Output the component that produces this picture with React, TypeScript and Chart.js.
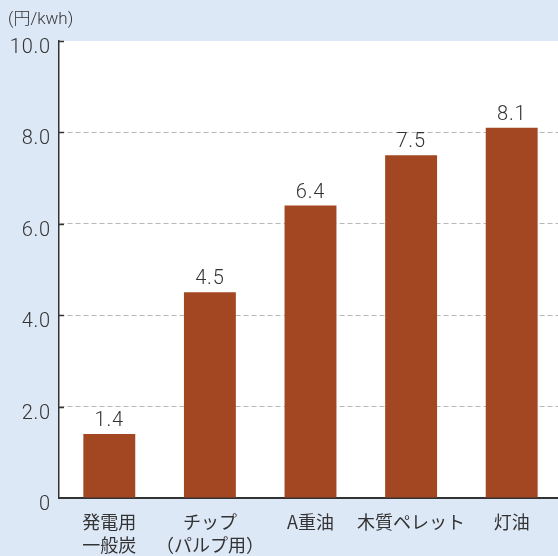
import React, { useEffect, useRef } from "react";
import { Chart, registerables } from "chart.js";

Chart.register(...registerables);

const categories: (string | string[])[] = [
  ["発電用", "一般炭"],
  ["チップ", "（パルプ用）"],
  "A重油",
  "木質ペレット",
  "灯油",
];
const costs = [1.4, 4.5, 6.4, 7.5, 8.1];
const unitLabel = "(円/kwh)";
const yTicks = [0, 2, 4, 6, 8, 10];

const BG = "#dde8f6";
const BAR = "#a34722";
const TEXT = "#333333";
const NUM_FONT = 'Roboto, "Noto Sans CJK JP", sans-serif';
const CJK_FONT = '"Noto Sans CJK JP", sans-serif';

const fmt = (v: number) => (v === 0 ? "0" : v.toFixed(1));

export default function App() {
  const ref = useRef<HTMLCanvasElement | null>(null);

  useEffect(() => {
    if (!ref.current) return;
    const plugin = {
      id: "deco",
      beforeDraw(chart: any) {
        const { ctx, chartArea } = chart;
        ctx.save();
        ctx.fillStyle = BG;
        ctx.fillRect(0, 0, chart.width, chart.height);
        ctx.fillStyle = "#ffffff";
        ctx.fillRect(chartArea.left, chartArea.top, chart.width - chartArea.left, chartArea.bottom - chartArea.top);
        ctx.restore();
      },
      afterDraw(chart: any) {
        const { ctx, chartArea } = chart;
        const y = chart.scales.y;
        ctx.save();
        ctx.strokeStyle = TEXT;
        ctx.lineWidth = 1.5;
        ctx.fillStyle = TEXT;
        ctx.font = `300 20px ${NUM_FONT}`;
        (ctx as any).letterSpacing = "0.8px";
        ctx.textAlign = "right";
        ctx.textBaseline = "middle";
        y.ticks.forEach((t: any) => {
          const py = y.getPixelForValue(t.value);
          if (t.value !== 0) {
            const ly = Math.round(py) + 0.5;
            ctx.beginPath();
            ctx.moveTo(chartArea.left, ly);
            ctx.lineTo(chartArea.left + 5, ly);
            ctx.stroke();
          }
          ctx.fillText(fmt(t.value), chartArea.left - 8, py + 7);
        });
        // value labels
        const meta = chart.getDatasetMeta(0);
        ctx.textAlign = "center";
        ctx.textBaseline = "alphabetic";
        meta.data.forEach((el: any, i: number) => {
          ctx.fillText(costs[i].toFixed(1), el.x, el.y - 8);
        });
        // unit label
        (ctx as any).letterSpacing = "0px";
        ctx.font = `300 17px ${NUM_FONT}`;
        ctx.textAlign = "left";
        ctx.textBaseline = "middle";
        ctx.fillText(unitLabel, 8, 20);
        ctx.restore();
      },
    };

    const chart = new Chart(ref.current, {
      type: "bar",
      data: {
        labels: categories,
        datasets: [
          {
            data: costs,
            backgroundColor: BAR,
            borderWidth: 0,
            categoryPercentage: 1,
            barPercentage: 0.516,
          },
        ],
      },
      options: {
        responsive: false,
        animation: false,
        devicePixelRatio: 1,
        layout: { padding: { left: 0, top: 41, right: 4, bottom: 0 } },
        plugins: { legend: { display: false }, tooltip: { enabled: false } },
        scales: {
          x: {
            grid: { display: false, drawTicks: false },
            border: { display: true, color: TEXT, width: 2 },
            ticks: {
              color: TEXT,
              font: { family: CJK_FONT, size: 18, weight: "normal", lineHeight: 1.28 },
              padding: 13,
              maxRotation: 0,
              autoSkip: false,
            },
            afterFit: (s: any) => {
              s.height = 58;
            },
          },
          y: {
            min: 0,
            max: 10,
            afterBuildTicks: (s: any) => {
              s.ticks = yTicks.map((v) => ({ value: v }));
            },
            grid: {
              drawTicks: false,
              color: (c: any) =>
                c.tick && (c.tick.value === 0 || c.tick.value === 10) ? "rgba(0,0,0,0)" : "#b8b8b8",
              lineWidth: 1,
            },
            border: { display: true, color: TEXT, width: 1.5, dash: [5, 3] },
            ticks: { display: false },
            afterFit: (s: any) => {
              s.width = 59;
            },
          },
        },
      },
      plugins: [plugin],
    });
    return () => chart.destroy();
  }, []);

  return (
    <div
      style={{
        position: "fixed",
        left: 0,
        top: 0,
        width: 558,
        height: 556,
        overflow: "hidden",
        background: BG,
      }}
    >
      <canvas ref={ref} width={566} height={556} style={{ display: "block" }} />
    </div>
  );
}
